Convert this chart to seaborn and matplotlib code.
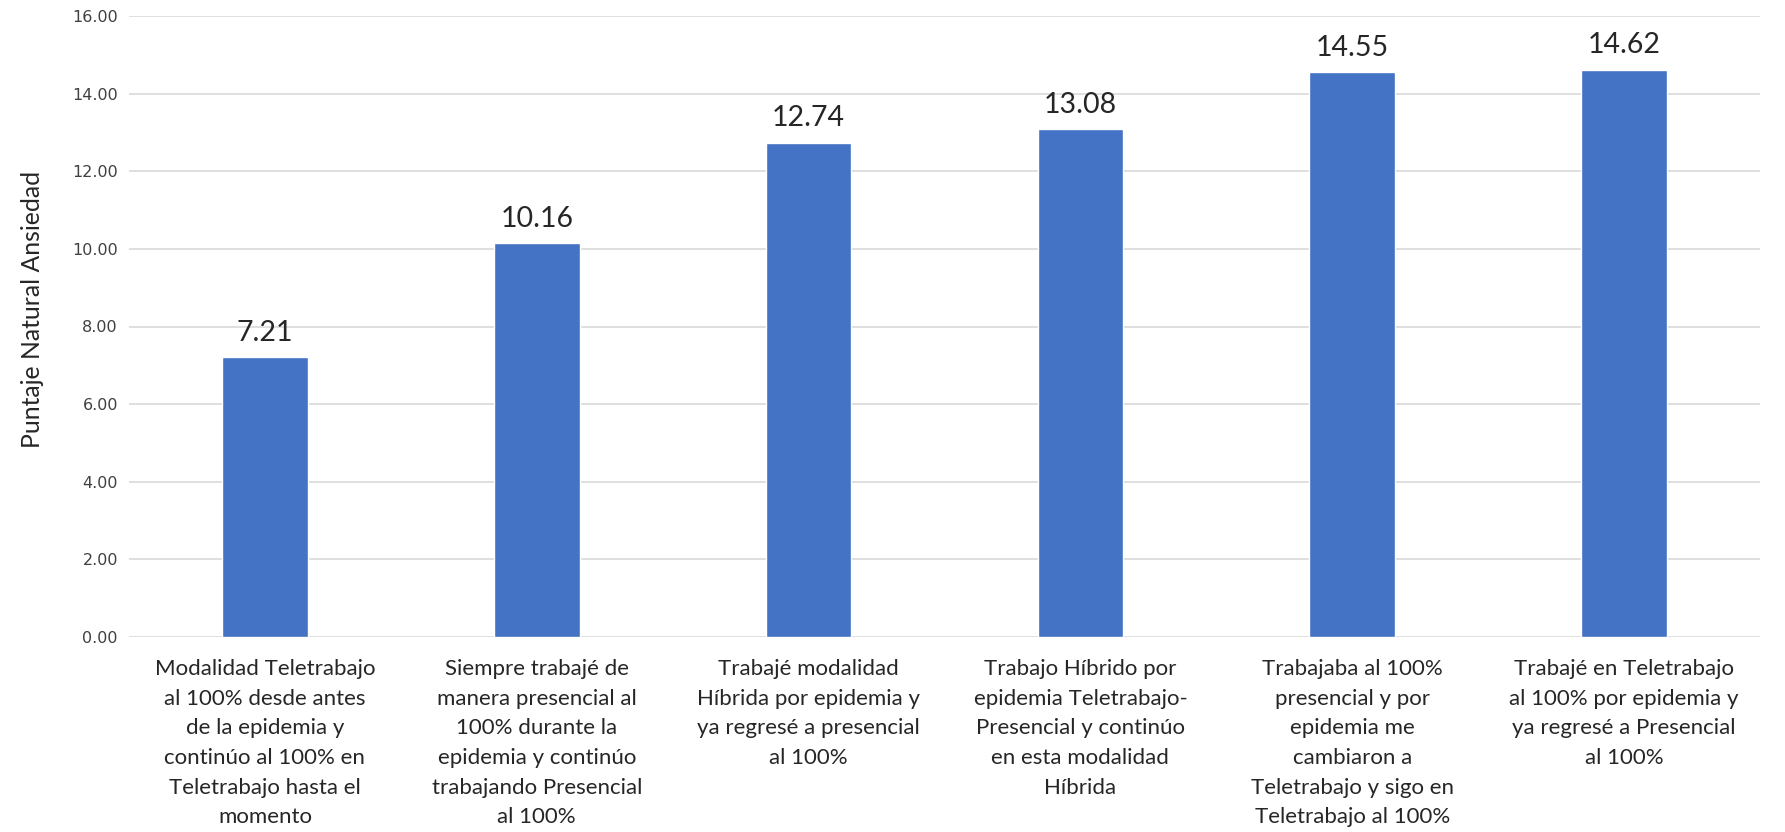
import matplotlib
matplotlib.use("Agg")
import matplotlib.pyplot as plt
import seaborn as sns
import pandas as pd

categorias = [
    "Modalidad Teletrabajo\nal 100% desde antes\nde la epidemia y\ncontinúo al 100% en\nTeletrabajo hasta el\nmomento",
    "Siempre trabajé de\nmanera presencial al\n100% durante la\nepidemia y continúo\ntrabajando Presencial\nal 100%",
    "Trabajé modalidad\nHíbrida por epidemia y\nya regresé a presencial\nal 100%",
    "Trabajo Híbrido por\nepidemia Teletrabajo-\nPresencial y continúo\nen esta modalidad\nHíbrida",
    "Trabajaba al 100%\npresencial y por\nepidemia me\ncambiaron a\nTeletrabajo y sigo en\nTeletrabajo al 100%",
    "Trabajé en Teletrabajo\nal 100% por epidemia y\nya regresé a Presencial\nal 100%",
]
puntajes = [7.21, 10.16, 12.74, 13.08, 14.55, 14.62]
y_ticks = [0, 2, 4, 6, 8, 10, 12, 14, 16]

sns.set_theme(style="white")
plt.rcParams["font.family"] = ["Lato", "DejaVu Sans"]

df = pd.DataFrame({"categoria": categorias, "puntaje": puntajes})

fig = plt.figure(figsize=(17.85, 8.32), dpi=100)
ax = fig.add_axes([129 / 1785, 1 - 637 / 832, (1760 - 129) / 1785, (637 - 16) / 832])

sns.barplot(data=df, x="categoria", y="puntaje", color="#4472C4", saturation=1,
            width=0.315, ax=ax, zorder=3)

ax.set_ylim(0, 16)
ax.set_yticks(y_ticks)
ax.set_yticklabels([f"{v:.2f}" for v in y_ticks])
for lbl in ax.get_yticklabels():
    lbl.set_fontfamily("DejaVu Sans")
    lbl.set_fontsize(11.5)
    lbl.set_color("#404040")
ax.yaxis.grid(True, color="#D9D9D9", linewidth=1.2, zorder=0)
ax.set_axisbelow(True)
for s in ax.spines.values():
    s.set_visible(False)
ax.tick_params(axis="both", length=0)
ax.tick_params(axis="y", pad=8)

ax.set_xticks(range(len(categorias)))
ax.set_xticklabels(categorias, fontsize=16, color="#262626", linespacing=1.6)
ax.tick_params(axis="x", pad=16)
ax.set_xlabel("")
ax.set_ylabel("Puntaje Natural Ansiedad", fontsize=17.8, color="#262626")
ax.yaxis.set_label_coords(-0.052, 0.527)

for p, v in zip(ax.patches, puntajes):
    ax.annotate(f"{v:.2f}", (p.get_x() + p.get_width() / 2, v),
                xytext=(0, 8), textcoords="offset points",
                ha="center", va="bottom", fontsize=20.5, color="#262626")

fig.savefig("out.png", dpi=100)
